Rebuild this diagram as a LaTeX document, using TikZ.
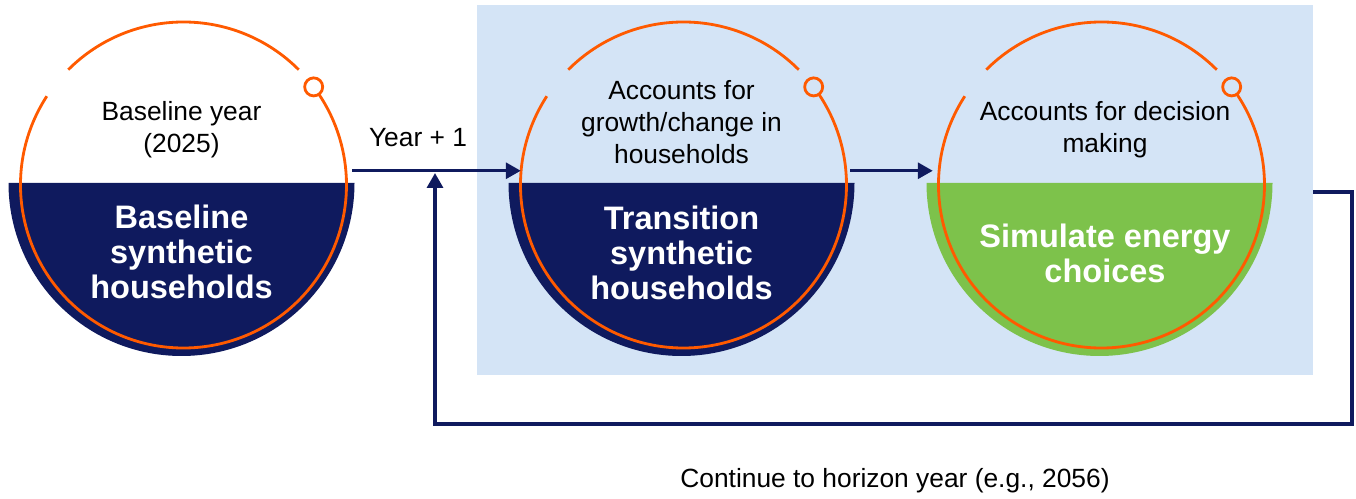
\documentclass[tikz,border=0pt]{standalone}
\usepackage{fontspec}
\setmainfont{Liberation Sans}
\usetikzlibrary{arrows.meta,shapes}
\definecolor{navy}{RGB}{15,26,94}
\definecolor{flame}{RGB}{255,90,0}
\definecolor{leafgreen}{RGB}{125,194,75}
\definecolor{paleblue}{RGB}{212,228,246}
\tikzset{
  ring/.style={circle,minimum size=6.52cm,inner sep=0pt},
  flameline/.style={draw=flame,line width=1.6pt},
  toptext/.style={align=center,font=\fontsize{15}{18}\selectfont},
  boldtext/.style={align=center,text=white,font=\fontsize{18.5}{20}\selectfont\bfseries},
  arr/.style={draw=navy,line width=1.9pt,-{Triangle[length=8.5pt,width=9pt]}}
}
\begin{document}
\begin{tikzpicture}[x=0.02cm,y=0.02cm]
\useasboundingbox (0,0) rectangle (1356,499);
\fill[paleblue] (477,124) rectangle (1313,494);
\foreach \cx/\nm/\fc in {183.5/1/navy,683.5/2/navy,1101.5/3/leafgreen}{
  \fill[\fc] (\cx-175,316) arc (180:360:173) -- cycle;%half disc
  \node[ring] (ring\nm) at (\cx,314) {};
  \draw[flameline] (\cx,314) ++(45:163) arc (45:135:163);
  \draw[flameline] (\cx,314) ++(147:163) arc (147:393.8:163);
  \draw[flameline] (\cx,314) ++(37:163) circle (9);
}
\node[toptext] (top1) at (181.5,369) {Baseline year\\(2025)};
\node[toptext] (top2) at (681.5,377) {Accounts for\\growth/change in\\households};
\node[toptext] (top3) at (1105,369) {Accounts for decision\\making};
\node[boldtext] (bold1) at (181.5,247) {Baseline\\synthetic\\households};
\node[boldtext] (bold2) at (681.5,246) {Transition\\synthetic\\households};
\node[boldtext] (bold3) at (1105,246) {Simulate energy\\choices};
\node[toptext] (yearlabel) at (418,361) {Year + 1};
\node[toptext] (horizon) at (895,18) {Continue to horizon year (e.g., 2056)};
\coordinate (merge) at (435,326);
\coordinate (loopstart) at (1313,307);
\draw[arr] ([xshift=0.12cm]ring1.5) -- (ring2.175);
\draw[arr] ([xshift=0.08cm]ring2.5) -- ([xshift=-0.12cm]ring3.175);
\draw[arr,line width=2pt] (loopstart) -- (1352,307) -- (1352,75) -- (435,75) -- (merge);
\end{tikzpicture}
\end{document}
